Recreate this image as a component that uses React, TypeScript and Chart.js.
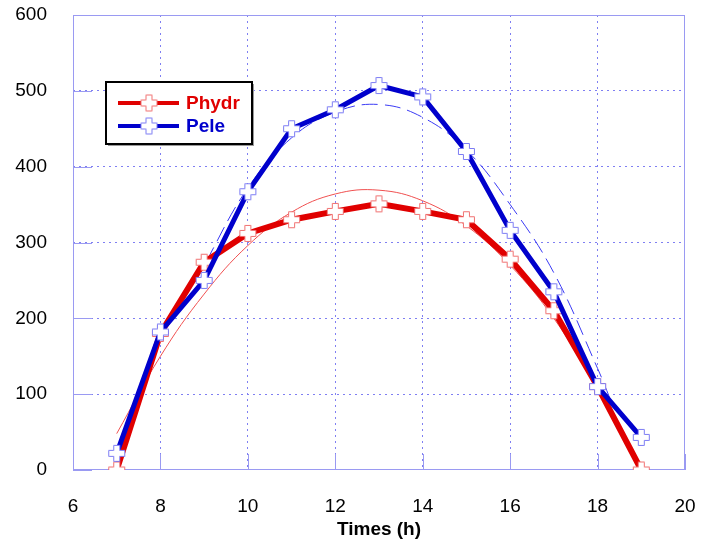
import React, { useEffect, useRef } from "react";
import { Chart, registerables } from "chart.js";

Chart.register(...registerables);

const hours = [7, 8, 9, 10, 11, 12, 13, 14, 15, 16, 17, 18, 19];
const phydr = [0, 180, 274, 312, 330, 341, 351, 341, 330, 278, 210, 110, 0];
const pele = [22, 182, 250, 367, 450, 475, 507, 492, 420, 316, 235, 110, 43];

const phydrFitX = [7, 8, 9, 10, 11, 12, 13, 14, 15, 16, 17, 18, 18.2];
const phydrFitY = [48, 150, 232, 296, 340, 364, 369, 355, 322, 270, 200, 108, 90];
const peleFitX = [8.8, 9, 10, 11, 12, 13, 14, 15, 16, 17, 18, 18.3];
const peleFitY = [248, 270, 372, 438, 472, 482, 465, 422, 350, 260, 134, 92];

const xTicks = [6, 8, 10, 12, 14, 16, 18, 20];
const yTicks = [0, 100, 200, 300, 400, 500, 600];

const RED = "#e00000";
const BLUE = "#0000cc";
const RED_LIGHT = "#f07070";
const BLUE_LIGHT = "#7c7cf4";
const GRID = "#7f7ff2";
const FRAME = "#9a9af2";
const FONT = '"Liberation Sans", Arial, sans-serif';

function makeCross(stroke: string): HTMLCanvasElement {
  const s = 19;
  const c = document.createElement("canvas");
  c.width = s;
  c.height = s;
  const g = c.getContext("2d")!;
  const m = 9.5;
  const r = 8;
  const a = 3;
  g.beginPath();
  g.moveTo(m - a, m - r);
  g.lineTo(m + a, m - r);
  g.lineTo(m + a, m - a);
  g.lineTo(m + r, m - a);
  g.lineTo(m + r, m + a);
  g.lineTo(m + a, m + a);
  g.lineTo(m + a, m + r);
  g.lineTo(m - a, m + r);
  g.lineTo(m - a, m + a);
  g.lineTo(m - r, m + a);
  g.lineTo(m - r, m - a);
  g.lineTo(m - a, m - a);
  g.closePath();
  g.fillStyle = "#ffffff";
  g.fill();
  g.strokeStyle = stroke;
  g.lineWidth = 1;
  g.stroke();
  return c;
}

const zip = (xs: number[], ys: number[]) => xs.map((x, i) => ({ x, y: ys[i] }));

export default function App() {
  const ref = useRef<HTMLCanvasElement | null>(null);

  useEffect(() => {
    if (!ref.current) return;
    const redCross = makeCross(RED_LIGHT);
    const blueCross = makeCross(BLUE_LIGHT);

    const framePlugin = {
      id: "frame",
      beforeDatasetsDraw(chart: any) {
        const { ctx, chartArea } = chart;
        const { left, top, right, bottom } = chartArea;
        ctx.save();
        ctx.strokeStyle = FRAME;
        ctx.lineWidth = 1;
        ctx.strokeRect(Math.round(left) + 0.5, Math.round(top) + 0.5, Math.round(right - left) - 1, Math.round(bottom - top) - 1);
        ctx.beginPath();
        xTicks.forEach((v) => {
          const px = Math.round(chart.scales.x.getPixelForValue(v)) + 0.5;
          ctx.moveTo(px, bottom);
          ctx.lineTo(px, bottom - 16);
        });
        yTicks.forEach((v) => {
          const py = Math.round(chart.scales.y.getPixelForValue(v)) + 0.5;
          ctx.moveTo(left, py);
          ctx.lineTo(left + 19, py);
        });
        ctx.stroke();
        ctx.restore();
      },
    };

    const legendPlugin = {
      id: "boxLegend",
      afterDatasetsDraw(chart: any) {
        const { ctx, chartArea } = chart;
        const bx = chartArea.left + 33;
        const by = chartArea.top + 67;
        const bw = 146;
        const bh = 62;
        ctx.save();
        ctx.fillStyle = "#9a9a9a";
        ctx.fillRect(bx + 2, by + 2, bw, bh);
        ctx.fillStyle = "#ffffff";
        ctx.fillRect(bx, by, bw, bh);
        ctx.strokeStyle = "#000000";
        ctx.lineWidth = 2;
        ctx.strokeRect(bx, by, bw, bh);
        const rows = [
          { label: "Phydr", color: RED, img: redCross, y: by + 21 },
          { label: "Pele", color: BLUE, img: blueCross, y: by + 44 },
        ];
        rows.forEach((r) => {
          ctx.strokeStyle = r.color;
          ctx.lineWidth = 4;
          ctx.beginPath();
          ctx.moveTo(bx + 12, r.y);
          ctx.lineTo(bx + 73, r.y);
          ctx.stroke();
          ctx.drawImage(r.img, bx + 43 - 9.5, r.y - 9.5);
          ctx.fillStyle = r.color;
          ctx.font = `bold 19px ${FONT}`;
          ctx.textBaseline = "middle";
          ctx.textAlign = "left";
          ctx.fillText(r.label, bx + 80, r.y + 1);
        });
        ctx.restore();
      },
    };

    const gridColor = (edges: number[]) => (c: any) =>
      c.tick && edges.includes(c.tick.value) ? "rgba(0,0,0,0)" : GRID;

    const chart = new Chart(ref.current, {
      type: "line",
      data: {
        datasets: [
          {
            label: "Pele",
            data: zip(hours, pele),
            borderColor: BLUE,
            borderWidth: 5,
            pointStyle: blueCross as any,
            pointRadius: 9,
            tension: 0,
          },
          {
            label: "Phydr",
            data: zip(hours, phydr),
            borderColor: RED,
            borderWidth: 6,
            pointStyle: redCross as any,
            pointRadius: 9,
            tension: 0,
          },
          {
            label: "Pele fit",
            data: zip(peleFitX, peleFitY),
            borderColor: "#3a3af5",
            borderWidth: 1,
            borderDash: [16, 7],
            pointRadius: 0,
            tension: 0.4,
          },
          {
            label: "Phydr fit",
            data: zip(phydrFitX, phydrFitY),
            borderColor: "#f05050",
            borderWidth: 1,
            pointRadius: 0,
            tension: 0.4,
          },
        ],
      },
      options: {
        animation: false,
        responsive: false,
        layout: { padding: { top: 13, right: 18, left: 0, bottom: 0 } },
        plugins: { legend: { display: false }, tooltip: { enabled: false } },
        scales: {
          x: {
            type: "linear",
            min: 6,
            max: 20,
            afterBuildTicks: (s: any) => {
              s.ticks = xTicks.map((v) => ({ value: v }));
            },
            ticks: { padding: 25, color: "#000", font: { size: 19, family: FONT } },
            grid: { drawTicks: false, color: gridColor([6, 20]) as any, lineWidth: 1 },
            border: { display: false, dash: [2, 4] },
            title: {
              display: true,
              text: "Times (h)",
              color: "#000",
              font: { size: 19, weight: "bold", family: FONT },
              padding: { top: 0, bottom: 5 },
            },
            afterFit: (s: any) => {
              s.height = 76;
              s.paddingLeft = 0;
              s.paddingRight = 0;
            },
          },
          y: {
            min: 0,
            max: 600,
            afterBuildTicks: (s: any) => {
              s.ticks = yTicks.map((v) => ({ value: v }));
            },
            ticks: { padding: 26, color: "#000", font: { size: 19, family: FONT } },
            grid: { drawTicks: false, color: gridColor([0, 600]) as any, lineWidth: 1 },
            border: { display: false, dash: [2, 4] },
            afterFit: (s: any) => {
              s.width = 73;
              s.paddingTop = 0;
              s.paddingBottom = 0;
            },
          },
        },
      },
      plugins: [framePlugin, legendPlugin],
    } as any);

    return () => chart.destroy();
  }, []);

  return (
    <div style={{ position: "fixed", left: 0, top: 0, width: 703, height: 546, background: "#fff" }}>
      <canvas ref={ref} width={703} height={546} />
    </div>
  );
}
